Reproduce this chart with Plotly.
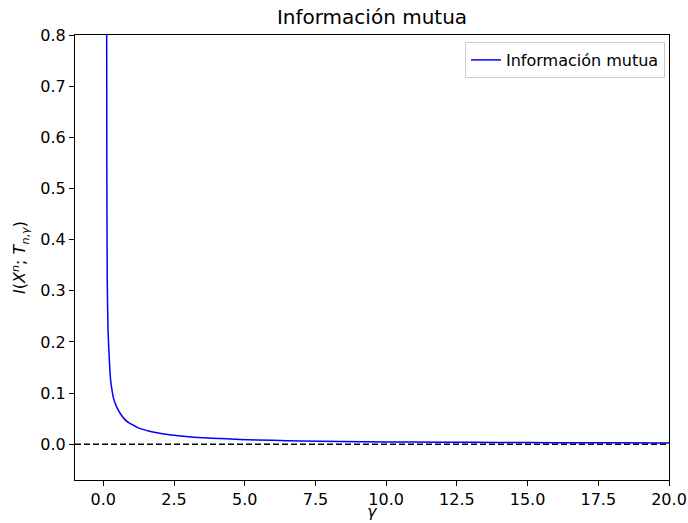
import plotly.graph_objects as go

gamma = [0.05, 0.10, 0.12, 0.125, 0.14, 0.17, 0.22, 0.26, 0.31, 0.36, 0.42, 0.48, 0.60,
         0.75, 0.90, 1.0, 1.2, 1.4, 1.6, 1.85, 2.2, 2.65, 3.2, 3.84, 4.84, 6.0, 7.0,
         8.4, 10.0, 12.0, 14.0, 16.0, 18.0, 20.0]
info = [2.0, 1.1, 0.80, 0.55, 0.32, 0.22, 0.158, 0.125, 0.105, 0.090, 0.080, 0.072, 0.060,
        0.049, 0.042, 0.039, 0.033, 0.029, 0.026, 0.023, 0.0195, 0.0165, 0.0138, 0.0117, 0.0093,
        0.0076, 0.0064, 0.0053, 0.0045, 0.0038, 0.0034, 0.0030, 0.0027, 0.0025]

x_ticks = [0.0, 2.5, 5.0, 7.5, 10.0, 12.5, 15.0, 17.5, 20.0]
y_ticks = [0.0, 0.1, 0.2, 0.3, 0.4, 0.5, 0.6, 0.7, 0.8]

font = "DejaVu Sans"

fig = go.Figure()
fig.add_trace(go.Scatter(x=gamma, y=info, mode="lines", name="Información mutua",
                         line=dict(color="#0000ff", width=1.5, shape="spline", smoothing=0.6)))
fig.add_shape(type="line", xref="paper", yref="y", x0=0, x1=1, y0=0, y1=0,
              line=dict(color="black", width=1.4, dash="6px,3px"))

axis_common = dict(showgrid=False, zeroline=False, showline=True, linecolor="black",
                   linewidth=1, mirror=True, ticks="outside", ticklen=5, tickwidth=1,
                   tickcolor="black", automargin=False,
                   tickfont=dict(family=font, size=16, color="black"))

fig.update_layout(
    width=688, height=523,
    margin=dict(l=75, r=19, t=35, b=43),
    paper_bgcolor="white", plot_bgcolor="white",
    title=dict(text="Información mutua", x=(75 + 669) / 2 / 688, xanchor="center",
               y=1 - 17 / 523, yanchor="middle",
               font=dict(family=font, size=20, color="black")),
    xaxis=dict(range=[-1, 20], tickvals=x_ticks, ticktext=[f"{v:.1f}" for v in x_ticks],
               **axis_common),
    yaxis=dict(range=[-0.07, 0.8], tickvals=y_ticks, ticktext=[f"{v:.1f}" for v in y_ticks],
               title=dict(text="<i>I</i>(<i>X</i><sup><i>n</i></sup>; <i>T</i><sub><i>n</i>,<i>γ</i></sub>)",
                          font=dict(family=font, size=16, color="black"), standoff=10),
               **axis_common),
    legend=dict(x=1 - 4 / 594, y=1 - 7 / 445, xanchor="right", yanchor="top",
                bgcolor="rgba(255,255,255,0.8)", bordercolor="#cccccc", borderwidth=1,
                font=dict(family=font, size=16, color="black")),
    showlegend=True,
)
fig.add_annotation(text="<i>γ</i>", xref="paper", yref="paper", x=0.5, y=-42 / 445,
                   xanchor="center", yanchor="bottom", showarrow=False, borderpad=0,
                   font=dict(family=font, size=16, color="black"))

fig.write_html("out.html")
